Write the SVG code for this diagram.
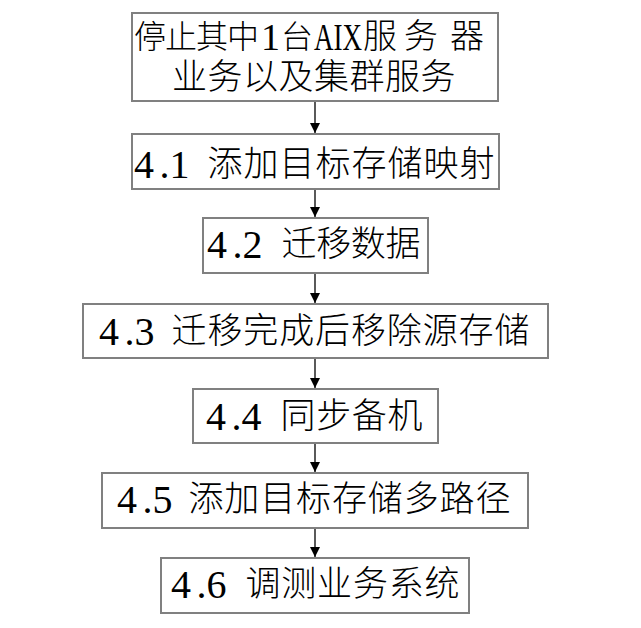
<svg xmlns="http://www.w3.org/2000/svg" width="641" height="628" viewBox="0 0 641 628">
<style>
.box{fill:#fff;stroke:#808080;stroke-width:2}
.t{font-family:"Noto Sans CJK SC",sans-serif;font-size:35px;font-weight:300;fill:#000}
.h{font-family:"Noto Sans CJK SC",sans-serif;font-size:32px;font-weight:300;fill:#000}
.n{font-family:"Liberation Serif",serif;font-size:40px;fill:#000}
.c{stroke:#000;stroke-width:1.3;fill:none}
</style>
<defs>
<marker id="ah" markerUnits="userSpaceOnUse" markerWidth="12" markerHeight="10" refX="10" refY="5" orient="auto">
<polygon points="0,0 10,5 0,10" fill="#000"/>
</marker>
</defs>
<rect width="641" height="628" fill="#fff"/>
<g id="n1"><rect class="box" x="132" y="13" width="366" height="88"/>
<text class="h" y="48"><tspan x="134 165 196 227">停止其中</tspan><tspan class="n" x="261" y="50" style="font-size:38px">1</tspan><tspan x="281" y="48">台</tspan><tspan class="n" x="314" y="50" style="font-size:38px" textLength="48" lengthAdjust="spacingAndGlyphs">AIX</tspan><tspan x="363 404 450" y="48" style="font-size:34px">服务器</tspan><tspan x="172 207.5 243 278.5 314 349.5 385 420.5" y="88.5" style="font-size:35px">业务以及集群服务</tspan></text></g>
<g id="n2"><rect class="box" x="132" y="134" width="367" height="55"/>
<text class="n" y="178"><tspan x="134">4</tspan><tspan x="159.5">.</tspan><tspan x="169.5">1</tspan></text>
<text class="t" x="207.5" y="175.5" textLength="287" lengthAdjust="spacing">添加目标存储映射</text></g>
<g id="n3"><rect class="box" x="203" y="218" width="225" height="55"/>
<text class="n" y="258"><tspan x="207">4</tspan><tspan x="232.5">.</tspan><tspan x="242.5">2</tspan></text>
<text class="t" x="281.5" y="255.5" textLength="139" lengthAdjust="spacing">迁移数据</text></g>
<g id="n4"><rect class="box" x="83" y="304" width="465" height="54"/>
<text class="n" y="345"><tspan x="99">4</tspan><tspan x="124.5">.</tspan><tspan x="134.5">3</tspan></text>
<text class="t" x="171.5" y="342.5" textLength="358" lengthAdjust="spacing">迁移完成后移除源存储</text></g>
<g id="n5"><rect class="box" x="193" y="389" width="245" height="54"/>
<text class="n" y="430"><tspan x="206">4</tspan><tspan x="231.5">.</tspan><tspan x="241.5">4</tspan></text>
<text class="t" x="280.5" y="427.5" textLength="142" lengthAdjust="spacing">同步备机</text></g>
<g id="n6"><rect class="box" x="102" y="473" width="426" height="55"/>
<text class="n" y="513"><tspan x="117">4</tspan><tspan x="142.5">.</tspan><tspan x="152.5">5</tspan></text>
<text class="t" x="188.5" y="510.5" textLength="322" lengthAdjust="spacing">添加目标存储多路径</text></g>
<g id="n7"><rect class="box" x="161" y="558" width="308" height="55"/>
<text class="n" y="598"><tspan x="171">4</tspan><tspan x="196.5">.</tspan><tspan x="206.5">6</tspan></text>
<text class="t" x="245.5" y="595.5" textLength="214" lengthAdjust="spacing">调测业务系统</text></g>
<g id="connectors">
<line class="c" x1="315" y1="102" x2="315" y2="133" marker-end="url(#ah)"/>
<line class="c" x1="315" y1="190" x2="315" y2="217" marker-end="url(#ah)"/>
<line class="c" x1="315" y1="274" x2="315" y2="303" marker-end="url(#ah)"/>
<line class="c" x1="315" y1="359" x2="315" y2="388" marker-end="url(#ah)"/>
<line class="c" x1="315" y1="444" x2="315" y2="472" marker-end="url(#ah)"/>
<line class="c" x1="315" y1="529" x2="315" y2="557" marker-end="url(#ah)"/>
</g>
</svg>
